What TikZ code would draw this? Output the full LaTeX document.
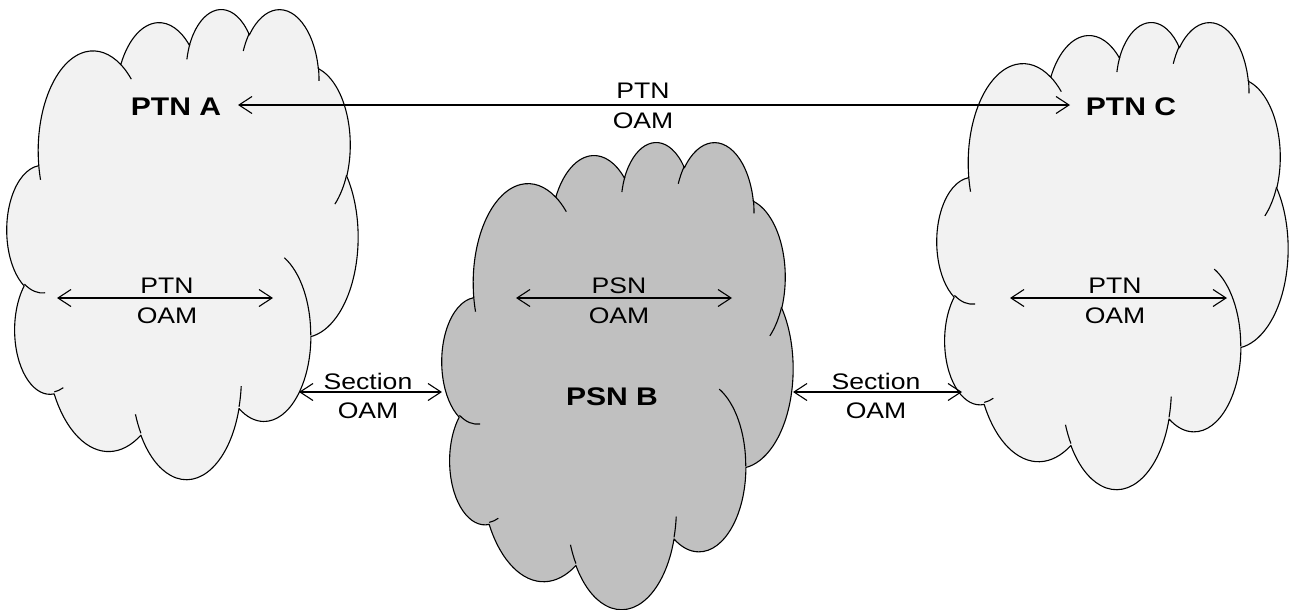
\documentclass[tikz,border=0pt]{standalone}
\usepackage{fontspec}
\setmainfont[FakeStretch=1.18]{Liberation Sans}
\usetikzlibrary{arrows.meta}
\definecolor{lightcloud}{HTML}{F2F2F2}
\definecolor{darkcloud}{HTML}{C0C0C0}

% convert DrawingML visual arc angles to parametric ones
\newcommand\cprep[5]{%
 \pgfmathsetmacro\tmpS{atan2((#2)*sin(#4),(#3)*cos(#4))}%
 \pgfmathsetmacro\tmpE{atan2((#2)*sin((#4)+(#5)),(#3)*cos((#4)+(#5)))}%
 \pgfmathsetmacro\tmpD{(#5)+Mod((\tmpE)-(\tmpS)-(#5)+180,360)-180}%
 \expandafter\xdef\csname cS#1\endcsname{\tmpS}%
 \expandafter\xdef\csname cD#1\endcsname{\tmpD}%
 \expandafter\xdef\csname cW#1\endcsname{#2}%
 \expandafter\xdef\csname cH#1\endcsname{#3}%
}
\newcommand\carc[1]{arc[x radius=\csname cW#1\endcsname, y radius=\csname cH#1\endcsname, start angle=\csname cS#1\endcsname, delta angle=\csname cD#1\endcsname]}

\cprep{ma}{6.753}{9.190}{-190.4875}{123.7805}
\cprep{mb}{5.333}{7.267}{-144.1024}{89.9452}
\cprep{mc}{4.365}{5.945}{-145.8079}{99.7230}
\cprep{md}{4.857}{6.595}{-130.9861}{117.2417}
\cprep{me}{5.333}{7.273}{-78.7089}{109.0269}
\cprep{mf}{6.775}{9.220}{-46.2673}{130.2690}
\cprep{mg}{5.785}{7.867}{0.6250}{114.0333}
\cprep{mh}{6.752}{9.215}{22.4516}{115.1726}
\cprep{mi}{7.720}{10.543}{66.2426}{75.7110}
\cprep{mj}{4.360}{5.918}{-274.9421}{146.7356}
\cprep{mk}{4.345}{5.945}{-246.8285}{152.5189}
\cprep{ia}{4.345}{5.945}{86.742}{26.4295}
\cprep{ib}{4.360}{5.918}{73.6105}{11.4475}
\cprep{ic}{6.752}{9.215}{137.6242}{14.0811}
\cprep{id}{6.752}{9.215}{6.4533}{15.9984}
\cprep{ie}{5.785}{7.867}{-70.2924}{70.9174}
\cprep{if}{5.333}{7.273}{30.3180}{27.7515}
\cprep{ig}{4.857}{6.595}{-13.7443}{14.8661}
\cprep{ih}{4.857}{6.595}{-149.1815}{18.1879}
\cprep{ii}{4.365}{5.945}{-163.4943}{17.6864}
\cprep{ij}{6.753}{9.190}{-66.7070}{12.3194}
\cprep{ik}{6.753}{9.190}{157.6544}{11.8582}

\newcommand\drawcloud[5]{% x0 y0 w h fill
 \begin{scope}[shift={(#1,-#2)}, xscale=#3/43.2, yscale=-#4/43.2]
  \edef\cloudcmd{\noexpand\filldraw[cloudline, fill=#5] (3.9,14.37)
   \carc{ma} \carc{mb} \carc{mc} \carc{md} \carc{me} \carc{mf}
   \carc{mg} \carc{mh} \carc{mi} \carc{mj} \carc{mk} -- cycle;}%
  \cloudcmd
  \edef\cloudcmd{\noexpand\draw[cloudline]
   (4.693,26.177) \carc{ia} (6.928,34.899) \carc{ib}
   (16.478,39.090) \carc{ic} (28.827,34.751) \carc{id}
   (34.129,22.954) \carc{ie} (41.798,15.354) \carc{if}
   (38.324,5.426) \carc{ig} (29.078,3.952) \carc{ih}
   (22.141,4.720) \carc{ii} (14.000,5.192) \carc{ij}
   (4.127,15.789) \carc{ik};}%
  \cloudcmd
 \end{scope}}

\tikzset{
 cloudline/.style={line width=1.1pt, line join=round},
 lbl/.style={font=\fontsize{22.5}{27}\selectfont, anchor=base, inner sep=0pt},
 title/.style={font=\bfseries\fontsize{25.5}{30}\selectfont, anchor=base, inner sep=0pt},
 link/.style={line width=1.1pt, {Straight Barb[length=13pt,width=17pt]}-{Straight Barb[length=13pt,width=17pt]}}
}

\begin{document}
\begin{tikzpicture}[x=1pt,y=1pt]
\useasboundingbox[fill=white] (0,0) rectangle (1290,-610);

\drawcloud{7}{8}{351}{470}{lightcloud}
\drawcloud{442}{141}{351}{467}{darkcloud}
\drawcloud{937}{21}{351}{467}{lightcloud}

% titles
\node[title] (ptnA) at (176,-115) {PTN A};
\node[title] (ptnC) at (1131,-115) {PTN C};
\node[title] (psnB) at (612,-405) {PSN B};

% top PTN OAM
\coordinate (topL) at (238,-105);
\coordinate (topR) at (1070,-105);
\draw[link] (topL) -- (topR);
\node[lbl] (topT) at (643,-98) {PTN};
\node[lbl] (topB) at (643,-128) {OAM};

% PTN A inner
\coordinate (aL) at (57,-298);
\coordinate (aR) at (273,-298);
\draw[link] (aL) -- (aR);
\node[lbl] (aT) at (167,-293) {PTN};
\node[lbl] (aB) at (167,-323) {OAM};

% PSN B inner
\coordinate (bL) at (516,-298);
\coordinate (bR) at (732,-298);
\draw[link] (bL) -- (bR);
\node[lbl] (bT) at (619,-293) {PSN};
\node[lbl] (bB) at (619,-323) {OAM};

% PTN C inner
\coordinate (cL) at (1010,-298);
\coordinate (cR) at (1227,-298);
\draw[link] (cL) -- (cR);
\node[lbl] (cT) at (1115,-293) {PTN};
\node[lbl] (cB) at (1115,-323) {OAM};

% section OAM left
\coordinate (sLa) at (299,-392);
\coordinate (sLb) at (442,-392);
\draw[link] (sLa) -- (sLb);
\node[lbl] (sLT) at (368,-389) {Section};
\node[lbl] (sLB) at (368,-418) {OAM};

% section OAM right
\coordinate (sRa) at (793,-392);
\coordinate (sRb) at (962,-392);
\draw[link] (sRa) -- (sRb);
\node[lbl] (sRT) at (876,-389) {Section};
\node[lbl] (sRB) at (876,-418) {OAM};
\end{tikzpicture}
\end{document}
